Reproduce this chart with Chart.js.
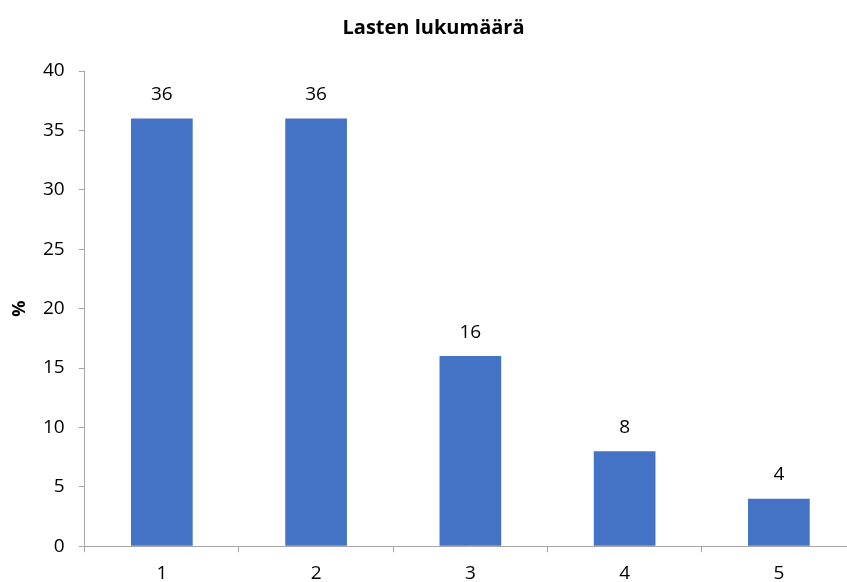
<!DOCTYPE html>
<html>
<head>
<meta charset="utf-8">
<script src="https://cdn.jsdelivr.net/npm/chart.js@4"></script>
<style>
  html, body { margin: 0; padding: 0; overflow: hidden; background: #fff; }
  #wrap { width: 856px; height: 595px; }
</style>
</head>
<body>
<div id="wrap"><canvas id="kids"></canvas></div>
<script>
let categories = ["1", "2", "3", "4", "5"];
let percents = [36, 36, 16, 8, 4];
let barColor = "#4472C4";
let axisColor = "#a6a6a6";
let fontFamily = "'Open Sans', sans-serif";

// draws the value above each bar
let valueLabels = {
  id: "valueLabels",
  afterDatasetsDraw(chart) {
    let c = chart.ctx;
    let meta = chart.getDatasetMeta(0);
    c.save();
    c.font = "19px " + fontFamily;
    c.fillStyle = "#000";
    c.textAlign = "center";
    c.textBaseline = "middle";
    meta.data.forEach((bar, i) => {
      c.fillText(percents[i], bar.x, bar.y - 24);
    });
    c.restore();
  },
};

let ctx = document.getElementById("kids").getContext("2d");
let myChart = new Chart(ctx, {
  type: "bar",
  data: {
    labels: categories,
    datasets: [
      {
        data: percents,
        backgroundColor: barColor,
        categoryPercentage: 1,
        barPercentage: 0.4,
      },
    ],
  },
  options: {
    responsive: true,
    maintainAspectRatio: false,
    animation: false,
    layout: { padding: { top: 6, left: 11, right: 0, bottom: 0 } },
    plugins: {
      legend: { display: false },
      tooltip: { enabled: false },
      title: {
        display: true,
        text: "Lasten lukumäärä",
        color: "#000",
        font: { family: fontFamily, size: 20, weight: "bold" },
        padding: { top: 10, bottom: 31 },
      },
    },
    scales: {
      x: {
        grid: {
          drawOnChartArea: false,
          drawTicks: true,
          tickLength: 6,
          color: axisColor,
        },
        border: { color: axisColor, width: 1 },
        ticks: {
          color: "#000",
          padding: 10,
          font: { family: fontFamily, size: 19 },
        },
      },
      y: {
        min: 0,
        max: 40,
        ticks: {
          stepSize: 5,
          color: "#000",
          padding: 14,
          font: { family: fontFamily, size: 19 },
        },
        grid: {
          drawOnChartArea: false,
          drawTicks: true,
          tickLength: 6,
          color: axisColor,
        },
        border: { color: axisColor, width: 1 },
        title: {
          display: true,
          text: "%",
          color: "#000",
          font: { family: fontFamily, size: 18, weight: "bold", lineHeight: 1 },
          padding: { top: 0, bottom: 0 },
        },
      },
    },
  },
  plugins: [valueLabels],
});
</script>
</body>
</html>
